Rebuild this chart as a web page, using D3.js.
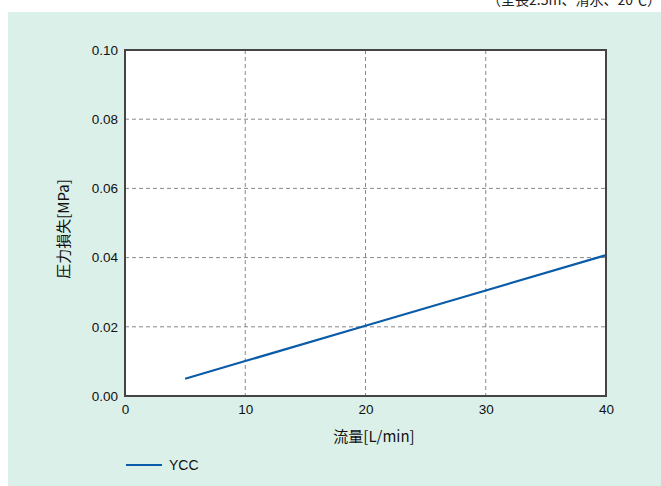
<!DOCTYPE html>
<html><head><meta charset="utf-8">
<script src="https://cdn.jsdelivr.net/npm/d3@7"></script>
<style>body{margin:0;background:#fff;font-family:"Liberation Sans",Arial,sans-serif}</style>
</head><body>
<script>
const flowValues = [5, 10, 20, 30, 40];
const lossValues = [0.005, 0.0101, 0.0203, 0.0305, 0.0407];
const xTicks = [0, 10, 20, 30, 40];
const yTicks = [0, 0.02, 0.04, 0.06, 0.08, 0.10];
const seriesName = "YCC";
const xTitle = "流量[L/min]";
const yTitle = "圧力損失[MPa]";
const note = "（全長2.5m、清水、20℃）";

const W = 661, H = 486;
const svg = d3.select("body").append("svg").attr("width", W).attr("height", H);
svg.append("rect").attr("x", 8).attr("y", 12).attr("width", W - 8).attr("height", H - 12).attr("fill", "#dcf0ea");
svg.append("text").attr("x", 661).attr("y", 5).attr("text-anchor", "end").attr("font-size", 14)
  .attr("font-family", "Noto Sans CJK JP").attr("fill", "#222").text(note);

const L = 125, R = 606, T = 50, B = 396;
const x = d3.scaleLinear().domain([0, 40]).range([L, R]);
const y = d3.scaleLinear().domain([0, 0.10]).range([B, T]);

svg.append("rect").attr("x", L).attr("y", T).attr("width", R - L).attr("height", B - T).attr("fill", "#fff");

const g = svg.append("g");
g.selectAll(".vg").data(xTicks.slice(1, -1)).join("line")
  .attr("x1", d => x(d)).attr("x2", d => x(d)).attr("y1", T).attr("y2", B)
  .attr("stroke", "#888").attr("stroke-width", 1).attr("stroke-dasharray", "4,3");
g.selectAll(".hg").data(yTicks.slice(1, -1)).join("line")
  .attr("y1", d => y(d)).attr("y2", d => y(d)).attr("x1", L).attr("x2", R)
  .attr("stroke", "#888").attr("stroke-width", 1).attr("stroke-dasharray", "4,3");

const xAxis = svg.append("g").attr("transform", `translate(0,${B})`)
  .call(d3.axisBottom(x).tickValues(xTicks).tickSize(0).tickPadding(8).tickFormat(d3.format("d")));
xAxis.select(".domain").remove();
xAxis.selectAll("text").attr("font-size", 13.5).attr("fill", "#111").attr("font-family", "Liberation Sans, Arial");

const yAxis = svg.append("g").attr("transform", `translate(${L},0)`)
  .call(d3.axisLeft(y).tickValues(yTicks).tickSize(0).tickPadding(7).tickFormat(d3.format(".2f")));
yAxis.select(".domain").remove();
yAxis.selectAll("text").attr("font-size", 13.5).attr("fill", "#111").attr("font-family", "Liberation Sans, Arial");

const line = d3.line().x(d => x(d[0])).y(d => y(d[1]));
svg.append("path").datum(flowValues.map((f, i) => [f, lossValues[i]]))
  .attr("d", line).attr("fill", "none").attr("stroke", "#0a5ca8").attr("stroke-width", 2.2);

svg.append("rect").attr("x", L).attr("y", T).attr("width", R - L).attr("height", B - T)
  .attr("fill", "none").attr("stroke", "#444").attr("stroke-width", 2);

svg.append("text").attr("x", 374).attr("y", 442).attr("text-anchor", "middle")
  .attr("font-size", 15).attr("fill", "#111").attr("font-family", "Noto Sans CJK JP").text(xTitle);
svg.append("text").attr("transform", `translate(69,229) rotate(-90)`).attr("text-anchor", "middle")
  .attr("font-size", 15).attr("fill", "#111").attr("font-family", "Noto Sans CJK JP").text(yTitle);

svg.append("line").attr("x1", 126).attr("x2", 162).attr("y1", 465).attr("y2", 465)
  .attr("stroke", "#0a5ca8").attr("stroke-width", 2.2);
svg.append("text").attr("x", 169).attr("y", 470).attr("font-size", 14).attr("fill", "#111").text(seriesName);
</script>
</body></html>
